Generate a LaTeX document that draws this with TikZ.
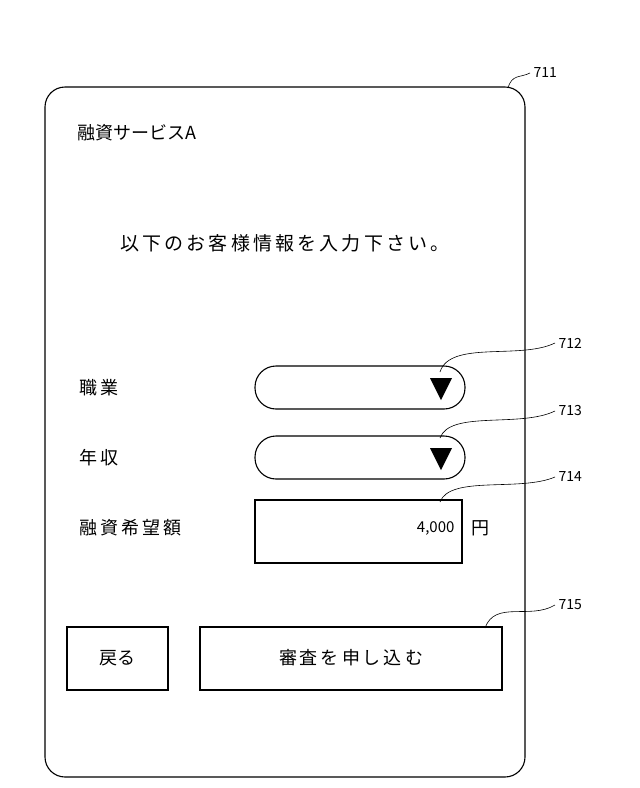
\documentclass[tikz,border=0pt]{standalone}
\usepackage{fontspec}
\setmainfont{Noto Sans CJK JP}
\begin{document}
\begin{tikzpicture}[x=1pt,y=-1pt,
  box/.style={draw,line width=1.1pt},
  lead/.style={draw,line width=0.6pt},
  lab/.style={font=\fontsize{14}{16}\selectfont},
  txt/.style={font=\fontsize{18}{20}\selectfont,anchor=west}]
\useasboundingbox (0,0) rectangle (640,788);
\draw[box,rounded corners=20] (45,87) rectangle (525,777);
\node[txt] (t) at (74,133) {融資サービスA};
\node[font=\fontsize{19}{21}\selectfont,inner sep=0pt] (m) at (285,243) {以\,下\,の\,お\,客\,様\,情\,報\,を\,入\,力\,下\,さ\,い\,。};
\node[txt] (l1) at (76,388) {職\,業};
\node[txt] (l2) at (76,458) {年\,収};
\node[txt] (l3) at (76,528) {融\,資\,希\,望\,額};
\draw[box,rounded corners=21] (255,366) rectangle (465,409);
\draw[box,rounded corners=21] (255,436) rectangle (465,479);
\fill (430,378) -- (452,378) -- (441,400) -- cycle;
\fill (430,448) -- (452,448) -- (441,470) -- cycle;
\draw[box] (255,500) rectangle (462,563);
\node[font=\fontsize{15}{17}\selectfont,anchor=east] (v) at (458,528) {4,000};
\node[txt] (y) at (468,528) {円};
\draw[box] (67,627) rectangle (168,690);
\node[txt,anchor=center] (b1) at (117,658) {戻る};
\draw[box] (200,627) rectangle (502,690);
\node[txt,anchor=center] (b2) at (351,658) {審\,査\,を\,申\,し\,込\,む};
\node[lab,anchor=west] (n1) at (530,73) {711};
\node[lab,anchor=west] (n2) at (555,343) {712};
\node[lab,anchor=west] (n3) at (555,411) {713};
\node[lab,anchor=west] (n4) at (555,477) {714};
\node[lab,anchor=west] (n5) at (555,605) {715};
\draw[lead] (508,88) .. controls (512,74) and (520,78) .. (n1.west);
\draw[lead] (440,372) .. controls (450,340) and (520,360) .. (n2.west);
\draw[lead] (440,438) .. controls (450,410) and (520,428) .. (n3.west);
\draw[lead] (440,502) .. controls (450,475) and (520,492) .. (n4.west);
\draw[lead] (485,628) .. controls (495,600) and (530,620) .. (n5.west);
\end{tikzpicture}
\end{document}
